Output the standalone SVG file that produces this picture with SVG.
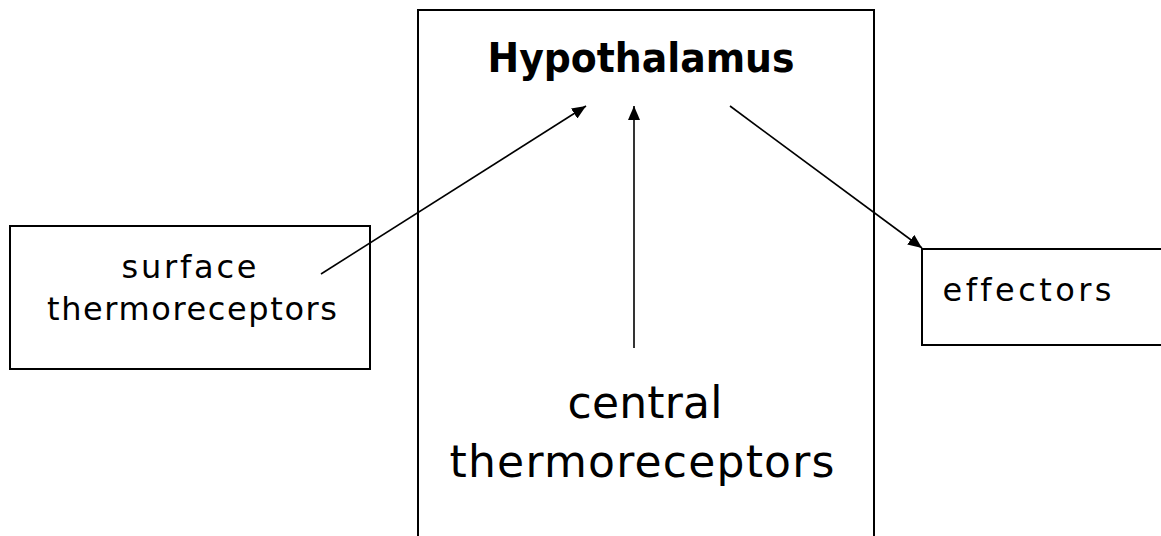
<svg xmlns="http://www.w3.org/2000/svg" width="1161" height="536" viewBox="0 0 1161 536">
<style>
.box{fill:#fff;stroke:#000;stroke-width:2}
.t{font-family:"Comic Sans MS","DejaVu Sans",sans-serif;fill:#000;text-anchor:middle;font-variant-ligatures:none}
.c{stroke:#000;stroke-width:1.6;fill:none;marker-end:url(#ah)}
</style>
<defs>
<marker id="ah" viewBox="0 0 14 12" refX="14" refY="6" markerWidth="14" markerHeight="12" markerUnits="userSpaceOnUse" orient="auto">
<path d="M0,0 L14,6 L0,12 Z" fill="#000"/>
</marker>
</defs>
<rect width="1161" height="536" fill="#fff"/>
<g id="hypothalamus">
<rect class="box" x="418" y="10" width="456" height="540"/>
<text class="t" x="641" y="72" font-size="40" font-weight="bold" textLength="307" lengthAdjust="spacingAndGlyphs">Hypothalamus</text>
</g>
<g id="central">
<text class="t" x="645" y="418" font-size="44" textLength="155">central</text>
<text class="t" x="642" y="477" font-size="44" textLength="385">thermoreceptors</text>
</g>
<g id="surface">
<rect class="box" x="10" y="226" width="360" height="143"/>
<text class="t" x="189" y="278" font-size="32" textLength="135">surface</text>
<text class="t" x="192" y="320" font-size="32" textLength="290">thermoreceptors</text>
</g>
<g id="effectors">
<rect class="box" x="922" y="249" width="260" height="96"/>
<text class="t" x="1027" y="301" font-size="32" textLength="169">effectors</text>
</g>
<g id="connectors">
<line class="c" x1="321" y1="274" x2="586" y2="106"/>
<line class="c" x1="634" y1="348" x2="634" y2="106"/>
<line class="c" x1="730" y1="106" x2="922" y2="248"/>
</g>
</svg>
